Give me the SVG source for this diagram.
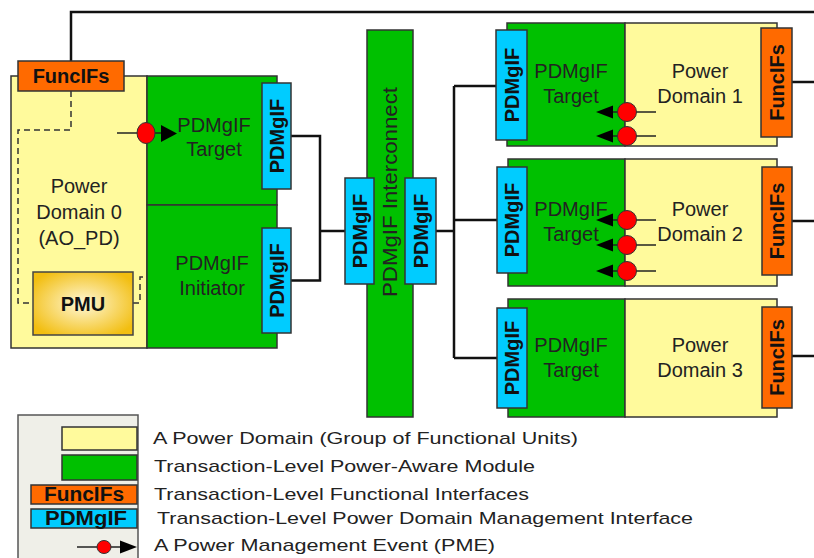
<svg xmlns="http://www.w3.org/2000/svg" width="814" height="558" viewBox="0 0 814 558">
<defs>
<radialGradient id="pmuGrad" cx="50%" cy="50%" r="60%">
<stop offset="0%" stop-color="#FFF8D8"/>
<stop offset="100%" stop-color="#F2BE10"/>
</radialGradient>
<style>
.yel{fill:#FFFA9C;stroke:#333;stroke-width:1.5}
.grn{fill:#00C000;stroke:#333;stroke-width:1.5}
.cyn{fill:#00CCFF;stroke:#333;stroke-width:1.5}
.org{fill:#FF6A00;stroke:#333;stroke-width:1.5}
.lbl{font-family:"Liberation Sans",Arial,sans-serif;font-size:20px;fill:#222;text-anchor:middle}
.tab{font-family:"Liberation Sans",Arial,sans-serif;font-size:20px;font-weight:bold;fill:#111;text-anchor:middle}
.leg{font-family:"Liberation Sans",Arial,sans-serif;font-size:17px;fill:#222}
.wire{fill:none;stroke:#111;stroke-width:2.5}
.dash{fill:none;stroke:#333;stroke-width:1.5;stroke-dasharray:6 4}
.pl{stroke:#222;stroke-width:1.5}
.pc{fill:#FF0000;stroke:#333;stroke-width:1}
.pa{fill:#000}
</style>
</defs>

<g id="connectors">
<path class="wire" d="M71,61 V12 H814"/>
<path class="wire" d="M291,136 H320 V280.5 H291 M320,231 H345"/>
<path class="wire" d="M436,231 H454 M454,86 V358 M454,86 H497 M454,220 H497 M454,358 H497"/>
<path class="wire" d="M792,82 H814 M792,221 H814 M792,356 H814"/>
</g>

<g id="pd0">
<rect class="yel" x="11" y="76" width="136" height="272"/>
<text class="lbl" x="79" y="193">Power</text>
<text class="lbl" x="79" y="219">Domain 0</text>
<text class="lbl" x="79" y="245">(AO_PD)</text>
<path class="dash" d="M71,91 V130 H18 V303 H33"/>
<path class="dash" d="M133,303 H140 V277 H147"/>
</g>

<g id="pmu">
<rect x="33" y="272" width="100" height="63" fill="url(#pmuGrad)" stroke="#444" stroke-width="1.5"/>
<text class="tab" x="83" y="311">PMU</text>
</g>

<g id="funcifs0">
<rect class="org" x="18" y="61" width="106" height="30"/>
<text class="tab" x="71" y="83">FuncIFs</text>
</g>

<g id="pd0-target">
<rect class="grn" x="147" y="76" width="130" height="129"/>
<text class="lbl" x="214" y="132">PDMgIF</text>
<text class="lbl" x="214" y="156">Target</text>
<line class="pl" x1="117" y1="133" x2="162" y2="133"/>
<ellipse class="pc" cx="146" cy="133" rx="9" ry="10.5"/>
<polygon class="pa" points="161,125 161,142 177,133.5"/>
</g>

<g id="pd0-initiator">
<rect class="grn" x="147" y="205" width="130" height="143"/>
<text class="lbl" x="212" y="270">PDMgIF</text>
<text class="lbl" x="212" y="295">Initiator</text>
</g>

<g id="pd0-tab1">
<rect class="cyn" x="262" y="83" width="29" height="106"/>
<text class="tab" transform="translate(276.5,136) rotate(-90)" x="0" y="7">PDMgIF</text>
</g>
<g id="pd0-tab2">
<rect class="cyn" x="262" y="228" width="29" height="105"/>
<text class="tab" transform="translate(276.5,280.5) rotate(-90)" x="0" y="7">PDMgIF</text>
</g>

<g id="interconnect">
<rect class="grn" x="367" y="30" width="46" height="387"/>
<text class="lbl" transform="translate(390,192) rotate(-90)" x="0" y="7" font-size="21" textLength="210" lengthAdjust="spacingAndGlyphs">PDMgIF Interconnect</text>
</g>
<g id="ic-tab-left">
<rect class="cyn" x="345" y="178" width="29" height="106"/>
<text class="tab" transform="translate(359.5,231) rotate(-90)" x="0" y="7">PDMgIF</text>
</g>
<g id="ic-tab-right">
<rect class="cyn" x="405" y="178" width="31" height="106"/>
<text class="tab" transform="translate(420.5,231) rotate(-90)" x="0" y="7">PDMgIF</text>
</g>

<g id="pd1">
<rect class="grn" x="507" y="23" width="118" height="123"/>
<rect class="yel" x="625" y="23" width="152" height="123"/>
<text class="lbl" x="571" y="78">PDMgIF</text>
<text class="lbl" x="571" y="103">Target</text>
<text class="lbl" x="700" y="78">Power</text>
<text class="lbl" x="700" y="103">Domain 1</text>
<rect class="cyn" x="496" y="30" width="31" height="110"/>
<text class="tab" transform="translate(511.5,85) rotate(-90)" x="0" y="7">PDMgIF</text>
<rect class="org" x="761" y="28" width="31" height="109"/>
<text class="tab" transform="translate(776.5,82.5) rotate(-90)" x="0" y="7">FuncIFs</text>
<line class="pl" x1="612" y1="112" x2="656" y2="112"/>
<circle class="pc" cx="627" cy="112" r="9.5"/>
<polygon class="pa" points="613,105.5 613,118.5 596,112"/>
<line class="pl" x1="612" y1="136" x2="656" y2="136"/>
<circle class="pc" cx="627" cy="136" r="9.5"/>
<polygon class="pa" points="613,129.5 613,142.5 596,136"/>
</g>

<g id="pd2">
<rect class="grn" x="508" y="159" width="117" height="127"/>
<rect class="yel" x="625" y="159" width="152" height="127"/>
<text class="lbl" x="571" y="216">PDMgIF</text>
<text class="lbl" x="571" y="241">Target</text>
<text class="lbl" x="700" y="216">Power</text>
<text class="lbl" x="700" y="241">Domain 2</text>
<rect class="cyn" x="497" y="167" width="30" height="106"/>
<text class="tab" transform="translate(512,220) rotate(-90)" x="0" y="7">PDMgIF</text>
<rect class="org" x="762" y="167" width="30" height="108"/>
<text class="tab" transform="translate(777,221) rotate(-90)" x="0" y="7">FuncIFs</text>
<line class="pl" x1="612" y1="220" x2="656" y2="220"/>
<circle class="pc" cx="627" cy="220" r="9.5"/>
<polygon class="pa" points="613,213.5 613,226.5 596,220"/>
<line class="pl" x1="612" y1="245" x2="656" y2="245"/>
<circle class="pc" cx="627" cy="245" r="9.5"/>
<polygon class="pa" points="613,238.5 613,251.5 596,245"/>
<line class="pl" x1="612" y1="271" x2="656" y2="271"/>
<circle class="pc" cx="627" cy="271" r="9.5"/>
<polygon class="pa" points="613,264.5 613,277.5 596,271"/>
</g>

<g id="pd3">
<rect class="grn" x="508" y="299" width="117" height="118"/>
<rect class="yel" x="625" y="299" width="152" height="118"/>
<text class="lbl" x="571" y="352">PDMgIF</text>
<text class="lbl" x="571" y="377">Target</text>
<text class="lbl" x="700" y="352">Power</text>
<text class="lbl" x="700" y="377">Domain 3</text>
<rect class="cyn" x="497" y="308" width="30" height="100"/>
<text class="tab" transform="translate(512,358) rotate(-90)" x="0" y="7">PDMgIF</text>
<rect class="org" x="762" y="307" width="30" height="101"/>
<text class="tab" transform="translate(777,357.5) rotate(-90)" x="0" y="7">FuncIFs</text>
</g>

<g id="legend">
<rect x="18" y="415" width="120" height="150" fill="#EFEFE8" stroke="#555" stroke-width="1.5"/>
<rect class="yel" x="62" y="427" width="75" height="23"/>
<rect class="grn" x="62" y="455" width="75" height="25"/>
<rect class="org" x="31" y="485" width="106" height="19"/>
<text class="tab" x="84" y="501" font-size="19" textLength="80" lengthAdjust="spacingAndGlyphs">FuncIFs</text>
<rect class="cyn" x="31" y="509" width="106" height="19"/>
<text class="tab" x="86" y="525" font-size="19" textLength="82" lengthAdjust="spacingAndGlyphs">PDMgIF</text>
<line class="pl" x1="77" y1="547" x2="121" y2="547"/>
<ellipse class="pc" cx="104" cy="547" rx="7" ry="6.5"/>
<polygon class="pa" points="120,540.5 120,553.5 137,547"/>
<text class="leg" x="153" y="444" textLength="425" lengthAdjust="spacingAndGlyphs">A Power Domain (Group of Functional Units)</text>
<text class="leg" x="154" y="472" textLength="381" lengthAdjust="spacingAndGlyphs">Transaction-Level Power-Aware Module</text>
<text class="leg" x="154" y="500" textLength="375" lengthAdjust="spacingAndGlyphs">Transaction-Level Functional Interfaces</text>
<text class="leg" x="157" y="524" textLength="536" lengthAdjust="spacingAndGlyphs">Transaction-Level Power Domain Management Interface</text>
<text class="leg" x="154" y="551" textLength="341" lengthAdjust="spacingAndGlyphs">A Power Management Event (PME)</text>
</g>
</svg>
